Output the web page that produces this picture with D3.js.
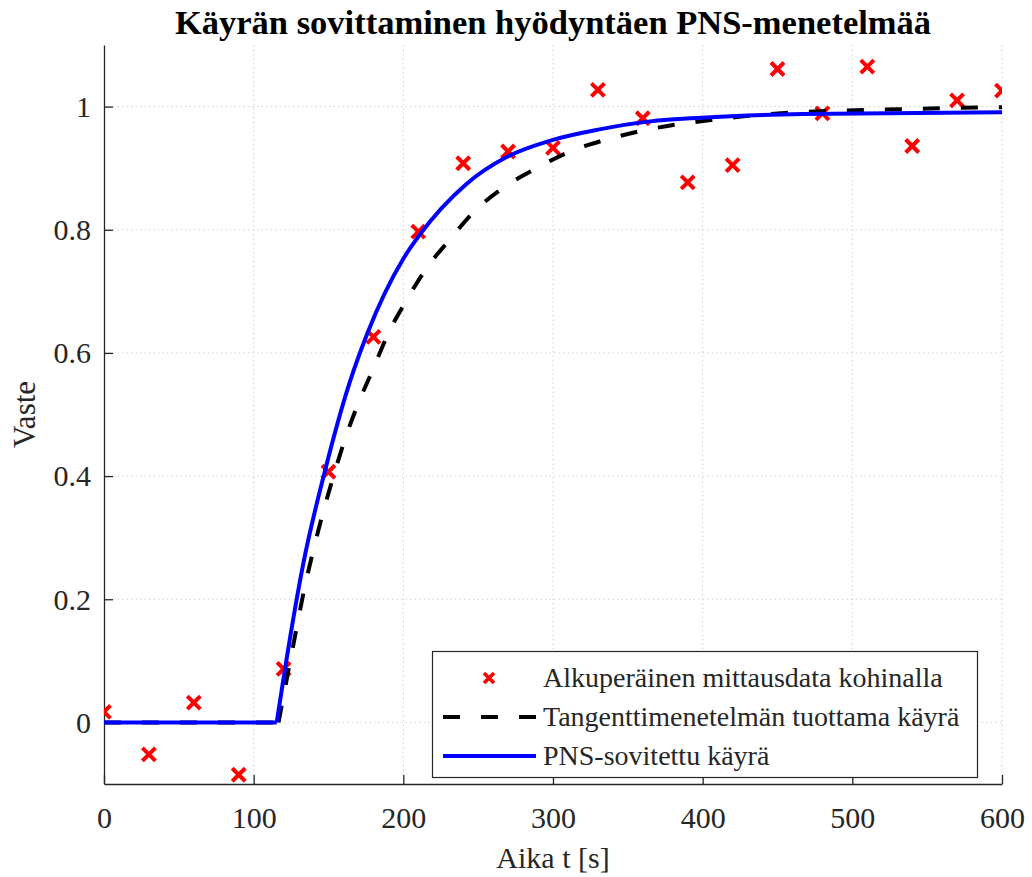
<!DOCTYPE html>
<html>
<head>
<meta charset="utf-8">
<script src="https://cdn.jsdelivr.net/npm/d3@7"></script>
<style>
  body { margin: 0; background: #fff; }
  svg { display: block; }
  text { font-family: "Liberation Serif", "Times New Roman", Times, serif; fill: #262626; }
</style>
</head>
<body>
<svg id="chart" width="1032" height="877" font-family="Liberation Serif, Times New Roman, serif"></svg>
<script>
// Axis ticks
const xTicks = [0, 100, 200, 300, 400, 500, 600];
const xTickLabels = ["0", "100", "200", "300", "400", "500", "600"];
const yTicks = [0, 0.2, 0.4, 0.6, 0.8, 1];
const yTickLabels = ["0", "0.2", "0.4", "0.6", "0.8", "1"];

// Noisy measurement samples
const measTime = [0, 30, 60, 90, 120, 150, 180, 210, 240, 270, 300, 330, 360, 390, 420, 450, 480, 510, 540, 570, 600];
const measValue = [0.017, -0.052, 0.032, -0.085, 0.087, 0.407, 0.626, 0.797, 0.908, 0.927, 0.933, 1.027, 0.981, 0.877, 0.905, 1.061, 0.989, 1.065, 0.936, 1.010, 1.026];

// Response produced by the tangent method
const tangentTime = [0, 116.6, 125.4, 135.4, 139.9, 146.5, 153.2, 160.9, 169.9, 180, 190, 202.2, 215.6, 231, 247.5, 266.8, 289.1, 311.3, 335, 360, 385.7, 410.6, 437.8, 462.7, 489.8, 514.7, 539.6, 564.6, 591.7, 600];
const tangentValue = [0, 0, 0.112, 0.234, 0.280, 0.342, 0.399, 0.459, 0.518, 0.575, 0.632, 0.686, 0.738, 0.784, 0.830, 0.868, 0.900, 0.927, 0.946, 0.961, 0.972, 0.9795, 0.9867, 0.9906, 0.9933, 0.995, 0.996, 0.9977, 0.9987, 0.999];

// Least-squares (PNS) fitted response
const pnsTime = [0, 115.4, 121, 133, 148, 164, 176, 200, 211, 242, 269, 300, 331, 365, 399, 467, 600];
const pnsValue = [0, 0, 0.088, 0.256, 0.412, 0.551, 0.632, 0.753, 0.792, 0.874, 0.918, 0.946, 0.963, 0.976, 0.982, 0.988, 0.991];

const legendLabels = ["Alkuperäinen mittausdata kohinalla", "Tangenttimenetelmän tuottama käyrä", "PNS-sovitettu käyrä"];

const FONT = "Liberation Serif, Times New Roman, serif";
const plot = { left: 104, right: 1002, top: 45, bottom: 784 };

const svg = d3.select("#chart");
const x = d3.scaleLinear().domain([0, 600]).range([plot.left, plot.right]);
const y = d3.scaleLinear().domain([-0.1, 1.1]).range([plot.bottom, plot.top]);

svg.append("defs").append("clipPath").attr("id", "plotClip")
  .append("rect")
  .attr("x", plot.left).attr("y", plot.top)
  .attr("width", plot.right - plot.left).attr("height", plot.bottom - plot.top);

// Dotted grid
const grid = svg.append("g").attr("stroke", "#d2d2d2").attr("stroke-width", 1).attr("stroke-dasharray", "1.5,3");
grid.selectAll("line.vx").data(xTicks.filter(d => d > 0)).join("line")
  .attr("x1", d => x(d)).attr("x2", d => x(d))
  .attr("y1", plot.top).attr("y2", plot.bottom);
grid.selectAll("line.hy").data(yTicks).join("line")
  .attr("x1", plot.left).attr("x2", plot.right)
  .attr("y1", d => y(d)).attr("y2", d => y(d));

// Axes with inward ticks
const xAxis = svg.append("g").attr("transform", `translate(0,${plot.bottom})`)
  .call(d3.axisBottom(x).tickValues(xTicks).tickFormat((d, i) => xTickLabels[i]).tickSizeInner(-9).tickSizeOuter(0));
const yAxis = svg.append("g").attr("transform", `translate(${plot.left},0)`)
  .call(d3.axisLeft(y).tickValues(yTicks).tickFormat((d, i) => yTickLabels[i]).tickSizeInner(-9).tickSizeOuter(0).tickPadding(13));
[xAxis, yAxis].forEach(a => {
  a.attr("font-family", FONT).attr("font-size", 30);
  a.select(".domain").attr("stroke", "#262626").attr("stroke-width", 1.3);
  a.selectAll(".tick line").attr("stroke", "#262626").attr("stroke-width", 1.3);
  a.selectAll("text").attr("font-family", FONT).attr("font-size", 30).attr("fill", "#262626");
});
xAxis.selectAll(".tick text").attr("y", 44).attr("dy", 0);
yAxis.selectAll(".tick text").attr("dy", "0.33em");

// A response is drawn as its flat dead-time part followed by a smooth rise
function responsePath(ts, vs) {
  const pts = ts.map((t, i) => [t, vs[i]]);
  const k = pts.findIndex(p => p[1] > 0) - 1;
  const flat = pts.slice(0, k + 1);
  const rise = pts.slice(k);
  const lin = d3.line().x(d => x(d[0])).y(d => y(d[1]));
  const smooth = d3.line().x(d => x(d[0])).y(d => y(d[1])).curve(d3.curveMonotoneX);
  return lin(flat) + smooth(rise);
}

const marks = svg.append("g").attr("clip-path", "url(#plotClip)");

const cross = "M-6.5,-6.5L6.5,6.5M-6.5,6.5L6.5,-6.5";
marks.selectAll("path.meas").data(measTime).join("path")
  .attr("class", "meas")
  .attr("d", cross)
  .attr("transform", (d, i) => `translate(${x(d)},${y(measValue[i])})`)
  .attr("fill", "none").attr("stroke", "#ff0000").attr("stroke-width", 4);

marks.append("path")
  .attr("d", responsePath(tangentTime, tangentValue))
  .attr("fill", "none").attr("stroke", "#000").attr("stroke-width", 4)
  .attr("stroke-dasharray", "17,21");

marks.append("path")
  .attr("d", responsePath(pnsTime, pnsValue))
  .attr("fill", "none").attr("stroke", "#0000ff").attr("stroke-width", 4)
  .attr("stroke-linejoin", "round");

// Legend
const lg = svg.append("g");
lg.append("rect").attr("x", 432.5).attr("y", 651.5).attr("width", 545).attr("height", 126)
  .attr("fill", "#fff").attr("stroke", "#262626").attr("stroke-width", 1.2);
const rowY = [678, 717, 756];
lg.append("path").attr("d", "M-5,-5L5,5M-5,5L5,-5").attr("transform", `translate(489,${rowY[0]})`)
  .attr("fill", "none").attr("stroke", "#ff0000").attr("stroke-width", 3.6);
lg.append("line").attr("x1", 443).attr("x2", 536).attr("y1", rowY[1]).attr("y2", rowY[1])
  .attr("stroke", "#000").attr("stroke-width", 4).attr("stroke-dasharray", "17,21");
lg.append("line").attr("x1", 443).attr("x2", 536).attr("y1", rowY[2]).attr("y2", rowY[2])
  .attr("stroke", "#0000ff").attr("stroke-width", 4);
lg.selectAll("text").data(legendLabels).join("text")
  .attr("x", 543).attr("y", (d, i) => rowY[i]).attr("dy", "0.33em")
  .attr("font-family", FONT).attr("font-size", 28).text(d => d);

// Titles
svg.append("text").attr("x", (plot.left + plot.right) / 2).attr("y", 34)
  .attr("text-anchor", "middle").attr("font-family", FONT)
  .attr("font-size", 34.5).attr("font-weight", "bold")
  .style("fill", "#000")
  .text("Käyrän sovittaminen hyödyntäen PNS-menetelmää");
svg.append("text").attr("x", (plot.left + plot.right) / 2).attr("y", 868)
  .attr("text-anchor", "middle").attr("font-family", FONT).attr("font-size", 30)
  .text("Aika t [s]");
svg.append("text").attr("transform", `translate(35,${(plot.top + plot.bottom) / 2}) rotate(-90)`)
  .attr("text-anchor", "middle").attr("font-family", FONT).attr("font-size", 31)
  .text("Vaste");
</script>
</body>
</html>
